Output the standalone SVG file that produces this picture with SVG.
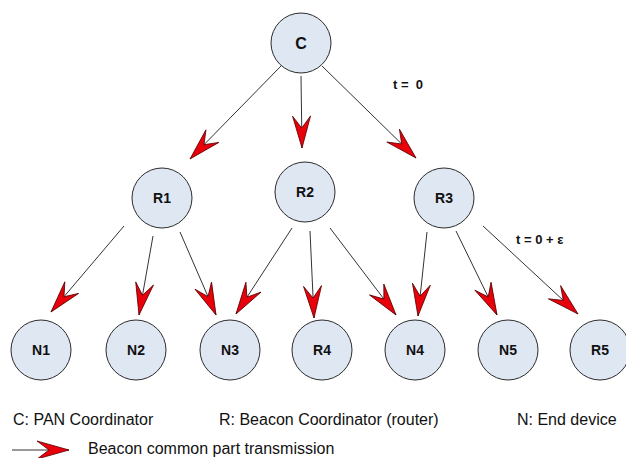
<svg xmlns="http://www.w3.org/2000/svg" width="626" height="458" viewBox="0 0 626 458">
  <style>
    .node circle { fill: #dfe7f3; stroke: #2b2b2b; stroke-width: 1; }
    .node text { font-family: "Liberation Sans", Arial, sans-serif; font-weight: bold; font-size: 14px; fill: #111; text-anchor: middle; }
    .edge { stroke: #333; stroke-width: 1; fill: none; marker-end: url(#barb); }
    .note { font-family: "Liberation Sans", Arial, sans-serif; font-weight: bold; font-size: 13px; fill: #111; }
    .legend { font-family: "Liberation Sans", Arial, sans-serif; font-size: 16px; fill: #111; }
  </style>
  <defs>
    <marker id="barb" markerUnits="userSpaceOnUse" markerWidth="36" markerHeight="22" viewBox="-34 -11 36 22" refX="0" refY="0" orient="auto">
      <path d="M0,0 L-32,-9 L-20,0 L-32,9 Z" fill="#e8000b" stroke="#5a0000" stroke-width="0.8" stroke-linejoin="miter"/>
    </marker>
  </defs>

  <!-- connectors -->
  <g id="connectors">
    <line class="edge" x1="281" y1="66" x2="190" y2="159"/>
    <line class="edge" x1="301" y1="76" x2="302" y2="148"/>
    <line class="edge" x1="322" y1="66" x2="416" y2="158"/>
    <line class="edge" x1="124" y1="226" x2="51" y2="312"/>
    <line class="edge" x1="153" y1="236" x2="139" y2="315"/>
    <line class="edge" x1="180" y1="232" x2="216" y2="315"/>
    <line class="edge" x1="292" y1="228" x2="236" y2="314"/>
    <line class="edge" x1="310" y1="231" x2="314" y2="318"/>
    <line class="edge" x1="330" y1="228" x2="396" y2="315"/>
    <line class="edge" x1="427" y1="232" x2="418" y2="316"/>
    <line class="edge" x1="456" y1="231" x2="497" y2="315"/>
    <line class="edge" x1="483" y1="226" x2="578" y2="314"/>
  </g>

  <!-- nodes -->
  <g id="C" class="node"><circle cx="301" cy="43" r="30"/><text x="301" y="49" style="font-size:16px">C</text></g>
  <g id="R1" class="node"><circle cx="162" cy="198" r="30"/><text x="162" y="203">R1</text></g>
  <g id="R2" class="node"><circle cx="305" cy="192" r="30"/><text x="305" y="197">R2</text></g>
  <g id="R3" class="node"><circle cx="444" cy="198" r="30"/><text x="444" y="203">R3</text></g>
  <g id="N1" class="node"><circle cx="41" cy="350" r="30"/><text x="41" y="355">N1</text></g>
  <g id="N2" class="node"><circle cx="136" cy="350" r="30"/><text x="136" y="355">N2</text></g>
  <g id="N3" class="node"><circle cx="230" cy="350" r="30"/><text x="230" y="355">N3</text></g>
  <g id="R4" class="node"><circle cx="322" cy="350" r="30"/><text x="322" y="355">R4</text></g>
  <g id="N4" class="node"><circle cx="415" cy="350" r="30"/><text x="415" y="355">N4</text></g>
  <g id="N5" class="node"><circle cx="508" cy="350" r="30"/><text x="508" y="355">N5</text></g>
  <g id="R5" class="node"><circle cx="600" cy="350" r="30"/><text x="600" y="355">R5</text></g>

  <!-- timing notes -->
  <text class="note" x="393" y="89" xml:space="preserve">t =  0</text>
  <text class="note" x="516" y="244">t = 0 + ε</text>

  <!-- legend -->
  <text class="legend" x="13" y="425">C: PAN Coordinator</text>
  <text class="legend" x="219" y="425">R: Beacon Coordinator (router)</text>
  <text class="legend" x="517" y="425">N: End device</text>
  <line class="edge" x1="12" y1="450" x2="69" y2="450"/>
  <text class="legend" x="88" y="454">Beacon common part transmission</text>
</svg>
